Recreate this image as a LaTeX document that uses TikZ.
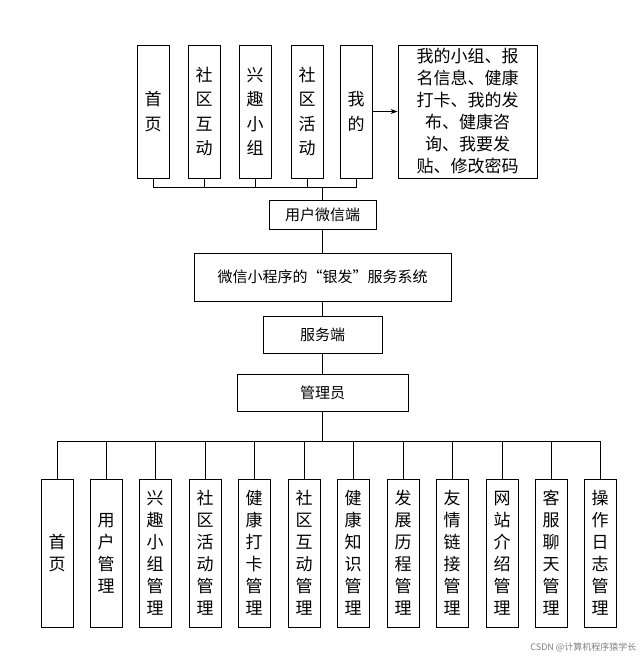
\documentclass[tikz,border=0pt]{standalone}
\usepackage{fontspec}
\setmainfont{Noto Sans CJK SC}
\usetikzlibrary{arrows.meta}
\begin{document}
\begin{tikzpicture}[x=1pt,y=-1pt,
  box/.style={draw,line width=0.8pt,inner sep=0pt,align=center},
  vbox/.style={box,minimum width=32pt,minimum height=#1,text width=20pt,font=\fontsize{17}{24.5}\selectfont},
  hbox/.style={box,font=\fontsize{15}{17}\selectfont},
  ln/.style={line width=0.8pt}]
\useasboundingbox (0,0) rectangle (644,658);
% top
\foreach \n/\x/\t in {t1/153/首\\页, t2/204/社\\区\\互\\动, t3/255/兴\\趣\\小\\组, t4/307/社\\区\\活\\动, t5/356/我\\的}
  \node[vbox=133pt] (\n) at (\x,111.5) {\t};
\node[box,minimum width=139pt,minimum height=133pt,text width=135pt,font=\fontsize{17}{22}\selectfont] (big) at (467.5,111.5)
 {我的小组、报\\名信息、健康\\打卡、我的发\\布、健康咨\\询、我要发\\贴、修改密码};
\draw[ln,-{Stealth[length=7pt,width=5pt]}] (t5.east) -- (big.west);
\node[hbox,minimum width=107pt,minimum height=29pt] (u) at (322.5,214.5) {用户微信端};
\node[hbox,minimum width=257pt,minimum height=48pt] (s) at (322.5,277) {微信小程序的“银发”服务系统};
\node[hbox,minimum width=119pt,minimum height=37pt] (f) at (322.5,334.5) {服务端};
\node[hbox,minimum width=171pt,minimum height=37pt] (a) at (322.5,392.5) {管理员};
\coordinate (tb) at (322.5,187);
\foreach \n in {t1,t2,t3,t4,t5} \draw[ln] (\n.south) |- (tb);
\draw[ln] (t1.south |- tb) -- (t5.south |- tb);
\draw[ln] (tb) -- (u.north);
\draw[ln] (u) -- (s);
\draw[ln] (s) -- (f);
\draw[ln] (f) -- (a);
\coordinate (bb) at (322.5,441);
\draw[ln] (a) -- (bb);
\foreach \n/\x/\t in {b1/57/首\\页, b2/106/用\\户\\管\\理, b3/155/兴\\趣\\小\\组\\管\\理, b4/205/社\\区\\活\\动\\管\\理, b5/254/健\\康\\打\\卡\\管\\理, b6/304/社\\区\\互\\动\\管\\理, b7/353/健\\康\\知\\识\\管\\理, b8/403/发\\展\\历\\程\\管\\理, b9/452/友\\情\\链\\接\\管\\理, b10/502/网\\站\\介\\绍\\管\\理, b11/551/客\\服\\聊\\天\\管\\理, b12/600/操\\作\\日\\志\\管\\理}
  {\node[vbox=148pt,font=\fontsize{17}{22}\selectfont] (\n) at (\x,553) {\t};
   \draw[ln] (\n.north) -- (\n.north |- bb);}
\draw[ln] (b1.north |- bb) -- (b12.north |- bb);
\node[text=gray,font=\fontsize{9}{10}\selectfont,anchor=east] (wm) at (640,647) {CSDN @计算机程序猿学长};
\end{tikzpicture}
\end{document}
